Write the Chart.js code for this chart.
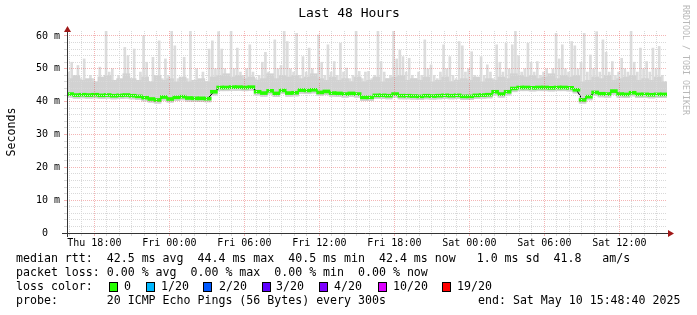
<!DOCTYPE html>
<html>
<head>
<meta charset="utf-8">
<script src="https://cdn.jsdelivr.net/npm/chart.js@4.4.1/dist/chart.umd.min.js"></script>
<style>
html, body { margin: 0; padding: 0; background: #fff; }
canvas { display: block; }
</style>
</head>
<body>
<canvas id="chart" width="697" height="315"></canvas>
<script>
// median rtt (ms), one value every 30 min, starting Thu 15:48:40
const medianRtt = [
  42.3, 42.0, 42.1, 42.0, 42.1, 41.9, 42.0, 41.8, 41.9, 42.0, 41.8, 41.6,
  41.2, 40.8, 40.5, 41.4, 40.8, 41.3, 41.5, 41.1, 41.0, 41.0, 40.9, 43.0,
  44.3, 44.3, 44.4, 44.4, 44.3, 44.4, 43.0, 42.6, 43.3, 42.5, 43.4, 42.6,
  42.7, 43.5, 43.4, 43.6, 42.8, 43.1, 42.6, 42.5, 42.3, 42.5, 42.3, 41.3,
  41.3, 41.9, 41.9, 41.8, 42.3, 41.8, 41.8, 41.7, 41.6, 41.8, 41.7, 41.8,
  41.9, 41.8, 41.9, 41.6, 41.6, 41.9, 42.0, 42.1, 43.0, 42.3, 43.0, 44.0,
  44.3, 44.3, 44.2, 44.3, 44.3, 44.2, 44.3, 44.3, 44.2, 43.6, 40.5, 41.5,
  42.8, 42.4, 42.3, 43.2, 42.3, 42.2, 42.7, 42.2, 42.2, 42.1, 42.2, 42.2
];

// top of the dense smoke, every 30 min (ms)
const smokeBand = [
  47, 48, 46.5, 47, 46, 47.5, 48, 46.5, 47, 48.5, 47, 46.5,
  47.5, 46, 48, 46.5, 47, 46, 47.5, 46, 46.5, 47, 46, 47.5,
  48, 48.5, 47.5, 48, 47, 47.5, 46.5, 47, 48.5, 47, 48, 47.5,
  48, 47, 47.5, 48.5, 47, 46.5, 47.5, 46.5, 47, 46, 47.5, 46,
  46.5, 47.5, 46, 47, 47.5, 48, 46.5, 47, 46.5, 47.5, 46, 46.5,
  47.5, 46, 46.5, 47, 46.5, 47.5, 46, 47, 46.5, 47.5, 47, 48.5,
  48, 47.5, 48, 47, 47.5, 48.5, 47, 48, 47.5, 48, 46, 46.5,
  47.5, 47, 48, 46.5, 47, 47.5, 48, 46.5, 47, 46.5, 47.5, 46
];

// highest ping of each 15 min (ms)
const smokeMax = [
  49, 52, 48, 51, 47, 53, 46, 48, 47, 46, 50.5, 47, 61.5, 49, 50, 46,
  48, 46, 56.5, 54, 47, 56, 46, 49, 60, 52, 46, 53.5, 47, 58.5, 47, 53,
  48, 61.5, 57, 47, 46, 53.5, 47, 61.5, 46, 50, 46, 49, 46, 56, 58.5, 50,
  61.3, 56, 50, 48, 61.8, 50, 56.3, 49, 48, 50, 57.3, 49, 47, 48, 52, 55,
  49, 48, 58.8, 50, 51, 61.8, 58.3, 50, 49, 60.8, 48, 53.7, 49, 56.3, 50, 48,
  60.3, 52, 48, 57.3, 49, 52.2, 48, 57.8, 49, 50.2, 47, 48, 61.8, 49.2, 47, 49,
  49.2, 47, 48, 61.8, 52.2, 49, 47, 48, 61.8, 53, 55.7, 53.7, 49, 53.2, 48, 47,
  49, 48, 58.8, 50, 51.2, 48, 47, 49, 57.3, 50, 53.7, 48, 47, 58.3, 57, 49,
  50, 55.2, 48, 47, 53.7, 48, 51.2, 49, 47, 57.3, 52, 49, 57.8, 50, 57.3, 62,
  54, 49, 50, 57.8, 52, 49, 52.2, 48, 49, 50, 47, 50, 60.8, 53, 57.3, 50,
  49, 58.3, 57, 50, 52, 60.8, 49, 54.2, 50, 61.3, 49, 58.8, 55, 49, 52.2, 48,
  49, 53.2, 50, 49, 61.8, 52, 49, 56.3, 50, 52.2, 49, 56.3, 50, 56.8, 48, 46
];

const xLabels = ['Thu 18:00', 'Fri 00:00', 'Fri 06:00', 'Fri 12:00',
                 'Fri 18:00', 'Sat 00:00', 'Sat 06:00', 'Sat 12:00'];
// Thu 18:00 comes 2h 11m 20s after the start of the graph
const firstLabelHour = 2 + 11 / 60 + 20 / 3600;
const yLabelStep = 10;

const statLines = [
  'median rtt:  42.5 ms avg  44.4 ms max  40.5 ms min  42.4 ms now   1.0 ms sd  41.8   am/s',
  'packet loss: 0.00 % avg  0.00 % max  0.00 % min  0.00 % now'
];
const lossLabels = ['0', '1/20', '2/20', '3/20', '4/20', '10/20', '19/20'];
const lossColors = ['#26ff00', '#00b8ff', '#0059ff', '#5e00ff', '#7e00ff', '#dd00ff', '#ff0000'];
const probeText = 'probe:       20 ICMP Echo Pings (56 Bytes) every 300s';
const endText = 'end: Sat May 10 15:48:40 2025';

const MONO = '"DejaVu Sans Mono", monospace';
const GRID_MINOR = '#d9d9d9';
const GRID_MAJOR = 'rgba(230, 90, 90, 0.45)';

// hour (from start) of each point
const medianHours = medianRtt.map((_, i) => 0.25 + 0.5 * i);
const smokeHours = smokeMax.map((_, i) => 0.125 + 0.25 * i);

const hourTicks = [];
for (let h = firstLabelHour - 2; h < 48; h += 1) hourTicks.push(h);

function isMajorHour(v) {
    const d = (((v - firstLabelHour) % 6) + 6) % 6;
    return d < 0.01 || d > 5.99;
}

const textPlugin = {
    id: 'smokeTexts',
    afterDraw(chart) {
        const c = chart.ctx;
        const area = chart.chartArea;
        const y0 = chart.scales.y.getPixelForValue(0);
        c.save();
        c.fillStyle = '#000';

        // title
        c.font = '13px ' + MONO;
        c.textAlign = 'center';
        c.textBaseline = 'middle';
        c.fillText('Last 48 Hours', 349, 14);

        // vertical axis title
        c.save();
        c.translate(12, 132);
        c.rotate(-Math.PI / 2);
        c.font = '11.6px ' + MONO;
        c.fillText('Seconds', 0, 0);
        c.restore();

        // watermark
        c.save();
        c.translate(685, 5);
        c.rotate(Math.PI / 2);
        c.textAlign = 'left';
        c.font = '8.3px ' + MONO;
        c.fillStyle = '#b8b8b8';
        c.fillText('RRDTOOL / TOBI OETIKER', 0, 0);
        c.restore();

        // axes with arrows
        c.strokeStyle = '#333';
        c.lineWidth = 1;
        c.beginPath();
        c.moveTo(area.left - 5, y0 + 0.5);
        c.lineTo(area.right + 2, y0 + 0.5);
        c.moveTo(area.left + 0.5, y0 + 4);
        c.lineTo(area.left + 0.5, area.top);
        c.stroke();
        c.fillStyle = '#a01818';
        c.beginPath();
        c.moveTo(area.right + 1, y0 - 3);
        c.lineTo(area.right + 7, y0 + 0.5);
        c.lineTo(area.right + 1, y0 + 4);
        c.fill();
        c.beginPath();
        c.moveTo(area.left - 3, area.top + 1);
        c.lineTo(area.left + 0.5, area.top - 5);
        c.lineTo(area.left + 4, area.top + 1);
        c.fill();

        // legend lines
        c.fillStyle = '#000';
        c.font = '11.6px ' + MONO;
        c.textAlign = 'left';
        c.textBaseline = 'middle';
        c.fillText(statLines[0], 16, 259);
        c.fillText(statLines[1], 16, 273);
        c.fillText('loss color:', 16, 287);
        const swatchX = [109, 146, 203, 262, 319, 378, 442];
        const labelX = [124, 161, 219, 276, 334, 393, 457];
        lossLabels.forEach((lab, i) => {
            c.fillStyle = lossColors[i];
            c.fillRect(swatchX[i], 283, 8, 9);
            c.strokeStyle = '#000';
            c.strokeRect(swatchX[i] + 0.5, 282.5, 8, 9);
            c.fillStyle = '#000';
            c.fillText(lab, labelX[i], 287);
        });
        c.fillText(probeText, 16, 301);
        c.fillText(endText, 478, 301);
        c.restore();
    }
};

new Chart(document.getElementById('chart'), {
    type: 'bar',
    data: {
        datasets: [
            {
                label: 'median',
                data: medianHours.map((h, i) => ({ x: h, y: [medianRtt[i] - 0.45, medianRtt[i] + 0.45] })),
                backgroundColor: lossColors[0],
                barThickness: 7,
                grouped: false,
                order: 0
            },
            {
                type: 'line',
                label: 'median line',
                data: medianHours.map((h, i) => ({ x: h, y: medianRtt[i] })),
                borderColor: '#000',
                borderWidth: 1,
                pointRadius: 0,
                tension: 0,
                order: 1
            },
            {
                label: 'smoke band',
                data: medianHours.map((h, i) => ({ x: h, y: [medianRtt[i] - 1, smokeBand[i]] })),
                backgroundColor: '#d2d2d2',
                barThickness: 7,
                grouped: false,
                order: 2
            },
            {
                label: 'smoke',
                data: smokeHours.map((h, i) => ({ x: h, y: [medianRtt[Math.floor(i / 2)] - 1, smokeMax[i]] })),
                backgroundColor: '#dcdcdc',
                barThickness: 2,
                grouped: false,
                order: 3
            }
        ]
    },
    options: {
        responsive: false,
        animation: false,
        devicePixelRatio: 1,
        layout: { padding: { left: 0, right: 30, top: 31, bottom: 62 } },
        plugins: { legend: { display: false }, tooltip: { enabled: false } },
        scales: {
            x: {
                type: 'linear',
                min: 0,
                max: 48,
                offset: false,
                afterBuildTicks: (scale) => { scale.ticks = hourTicks.map(v => ({ value: v })); },
                afterFit: (scale) => { scale.height = 20; },
                ticks: {
                    autoSkip: false,
                    maxRotation: 0,
                    padding: 1,
                    color: '#000',
                    font: { family: MONO, size: 10 },
                    callback: (v) => isMajorHour(v) ? xLabels[Math.round((v - firstLabelHour) / 6)] : ''
                },
                grid: {
                    offset: false,
                    z: 1,
                    drawTicks: true,
                    tickLength: 3,
                    color: (ctx) => ctx.tick && isMajorHour(ctx.tick.value) ? GRID_MAJOR : GRID_MINOR
                },
                border: { display: false, dash: [1, 1] }
            },
            y: {
                min: 0,
                max: 61.5,
                afterBuildTicks: (scale) => {
                    const t = [];
                    for (let v = 0; v <= 60; v += 2) t.push({ value: v });
                    scale.ticks = t;
                },
                afterFit: (scale) => { scale.width = 67; },
                ticks: {
                    autoSkip: false,
                    padding: 4,
                    color: '#000',
                    font: { family: MONO, size: 10 },
                    callback: (v) => v % yLabelStep === 0 ? (v === 0 ? '0  ' : v + ' m') : ''
                },
                grid: {
                    z: 1,
                    drawTicks: true,
                    tickLength: 3,
                    color: (ctx) => ctx.tick && ctx.tick.value % yLabelStep === 0 ? GRID_MAJOR : GRID_MINOR
                },
                border: { display: false, dash: [1, 1] }
            }
        }
    },
    plugins: [textPlugin]
});
</script>
</body>
</html>
